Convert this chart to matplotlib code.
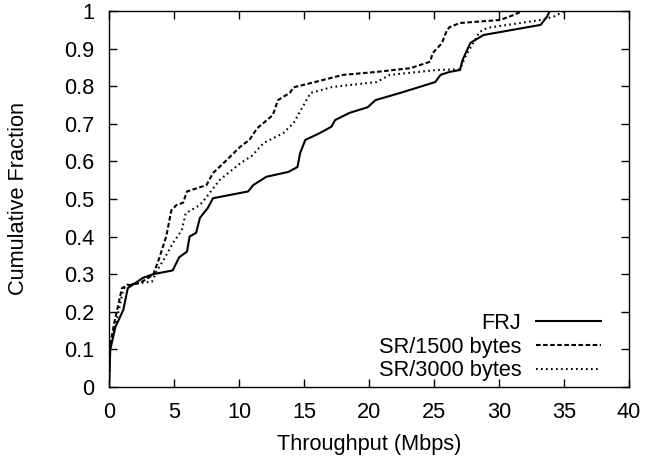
import matplotlib
matplotlib.use('Agg')
import matplotlib.pyplot as plt
from matplotlib.ticker import FuncFormatter

plt.rcParams['font.family'] = ['Liberation Sans', 'DejaVu Sans']

# FRJ (solid)
frj_x = [0, 0.1, 0.5, 1.1, 1.45, 2.6, 3.4, 4.9, 5.4, 6.0, 6.2, 6.7, 7.0, 7.6, 8.0,
         10.7, 11.1, 12.1, 13.8, 14.5, 14.7, 15.1, 16.2, 17.1, 17.4, 18.5, 19.9,
         20.5, 22.4, 25.1, 25.5, 26.2, 27.0, 27.2, 27.8, 28.8, 33.2, 33.7, 33.9]
frj_y = [0, 0.1, 0.16, 0.205, 0.263, 0.29, 0.3, 0.31, 0.345, 0.36, 0.4, 0.41, 0.45,
         0.476, 0.502, 0.52, 0.537, 0.559, 0.572, 0.585, 0.622, 0.657, 0.675,
         0.692, 0.71, 0.729, 0.744, 0.763, 0.782, 0.811, 0.83, 0.838, 0.843,
         0.87, 0.915, 0.936, 0.963, 0.985, 1.0]

# SR/1500 bytes (dashed)
sr1500_x = [0, 0.05, 0.4, 1.0, 1.45, 2.4, 3.4, 3.9, 4.4, 4.8, 5.2, 5.7, 6.0, 7.5,
            8.0, 8.8, 10.1, 10.8, 11.4, 12.6, 13.0, 13.9, 14.2, 15.5, 18.0, 20.6,
            23.2, 24.7, 24.9, 25.6, 26.0, 26.2, 27.0, 30.1, 31.1, 31.8]
sr1500_y = [0, 0.1, 0.17, 0.263, 0.27, 0.277, 0.298, 0.346, 0.4, 0.47, 0.484, 0.49,
            0.52, 0.537, 0.569, 0.595, 0.639, 0.657, 0.688, 0.723, 0.763, 0.782,
            0.797, 0.808, 0.83, 0.838, 0.848, 0.865, 0.888, 0.914, 0.949, 0.957,
            0.968, 0.976, 0.989, 1.0]

# SR/3000 bytes (dotted)
sr3000_x = [0, 0.05, 0.6, 1.1, 1.4, 2.0, 3.3, 3.7, 4.2, 4.9, 5.6, 5.9, 7.0, 7.5,
            8.5, 10.1, 11.0, 11.9, 13.4, 14.2, 14.9, 15.5, 17.2, 20.6, 21.6, 25.2,
            27.0, 27.4, 28.0, 28.5, 29.1, 33.2, 34.2, 34.9, 35.0]
sr3000_y = [0, 0.1, 0.18, 0.26, 0.272, 0.275, 0.28, 0.31, 0.338, 0.382, 0.417, 0.462,
            0.484, 0.505, 0.55, 0.595, 0.615, 0.649, 0.675, 0.702, 0.745, 0.782,
            0.798, 0.811, 0.83, 0.843, 0.845, 0.878, 0.914, 0.944, 0.955, 0.976,
            0.985, 0.997, 1.0]

fs = 15.7

fig = plt.figure(figsize=(6.46, 4.57), dpi=100)
ax = fig.add_axes([0.1687, 0.1532, 0.805, 0.8228])

ax.plot(frj_x, frj_y, color='black', lw=1.5, ls='-', label='FRJ')
ax.plot(sr1500_x, sr1500_y, color='black', lw=1.5, ls=(0, (2.2, 1.2)), label='SR/1500 bytes')
ax.plot(sr3000_x, sr3000_y, color='black', lw=1.5, ls=(0, (0.8, 1.6)), label='SR/3000 bytes')

ax.set_xlim(0, 40)
ax.set_ylim(0, 1)
ax.set_xticks(range(0, 41, 5))
ax.set_yticks([i / 10 for i in range(11)])
ax.yaxis.set_major_formatter(FuncFormatter(lambda v, p: '%g' % round(v, 2)))
ax.tick_params(direction='in', top=True, right=True, length=6, width=1,
               labelsize=fs)
ax.tick_params(axis='x', pad=10.5)
ax.tick_params(axis='y', pad=10.5)
for s in ax.spines.values():
    s.set_linewidth(1)

ax.set_xlabel('Throughput (Mbps)', fontsize=fs, labelpad=8)
ax.set_ylabel('Cumulative Fraction', fontsize=fs, labelpad=25)

leg = ax.legend(loc='lower right', frameon=False, markerfirst=False, fontsize=fs,
                handlelength=2.95, handletextpad=0.68, labelspacing=0.12,
                borderaxespad=0.0, bbox_to_anchor=(0.962, -0.008))
for t in leg.get_texts():
    t.set_ha('right')

fig.savefig('out.png', dpi=100)
